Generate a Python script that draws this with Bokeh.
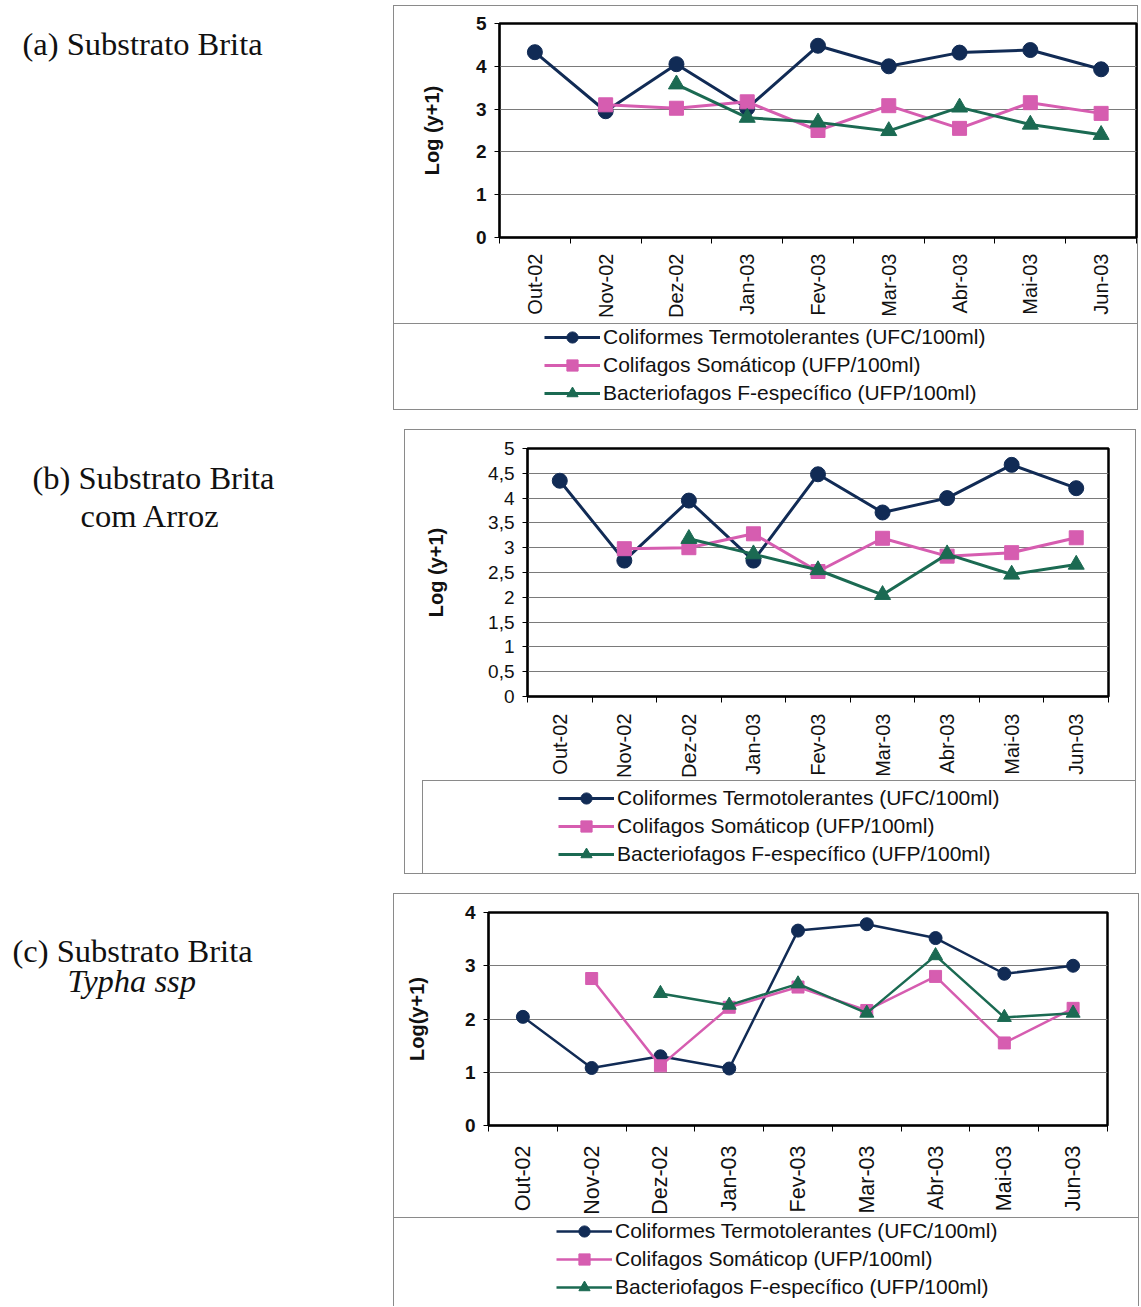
import math
from bokeh.plotting import figure
from bokeh.models import Range1d, FixedTicker, Label, Legend, LegendItem
from bokeh.embed import file_html
from bokeh.resources import INLINE

nan = float("nan")

months = ["Out-02", "Nov-02", "Dez-02", "Jan-03", "Fev-03", "Mar-03", "Abr-03", "Mai-03", "Jun-03"]
series_names = [
    "Coliformes Termotolerantes (UFC/100ml)",
    "Colifagos Somáticop (UFP/100ml)",
    "Bacteriofagos F-específico (UFP/100ml)",
]

# (a) Substrato Brita
a_colif = [4.33, 2.95, 4.05, 3.02, 4.48, 4.00, 4.32, 4.38, 3.93]
a_somat = [nan, 3.10, 3.02, 3.17, 2.50, 3.08, 2.55, 3.15, 2.90]
a_fspec = [nan, nan, 3.58, 2.80, 2.69, 2.49, 3.04, 2.64, 2.40]

# (b) Substrato Brita com Arroz
b_colif = [4.35, 2.74, 3.95, 2.74, 4.48, 3.71, 4.00, 4.67, 4.20]
b_somat = [nan, 2.98, 3.00, 3.28, 2.52, 3.19, 2.83, 2.90, 3.20]
b_fspec = [nan, nan, 3.18, 2.87, 2.55, 2.05, 2.87, 2.46, 2.66]

# (c) Substrato Brita Typha ssp
c_colif = [2.04, 1.08, 1.30, 1.07, 3.66, 3.78, 3.52, 2.85, 3.00]
c_somat = [nan, 2.76, 1.12, 2.22, 2.60, 2.16, 2.80, 1.55, 2.20]
c_fspec = [nan, nan, 2.48, 2.26, 2.66, 2.11, 3.19, 2.03, 2.11]

a_yticks = [0, 1, 2, 3, 4, 5]
b_yticks = [0, 0.5, 1, 1.5, 2, 2.5, 3, 3.5, 4, 4.5, 5]
c_yticks = [0, 1, 2, 3, 4]

COLORS = ["#112b55", "#d65db0", "#1b6a52"]
MARKERS = ["circle", "square", "triangle"]
FONT = "Liberation Sans"
GREY = "#8a8a8a"
W = 1141

xs = list(range(1, len(months) + 1))


def comma(v):
    return ("%g" % v).replace(".", ",")


def css_lines(lines):
    """Thin grey chart-area borders drawn as CSS backgrounds: (x, y, w, h) in px."""
    return {
        "background-image": ", ".join(["linear-gradient(%s, %s)" % (GREY, GREY)] * len(lines)),
        "background-size": ", ".join("%dpx %dpx" % (w, h) for (x, y, w, h) in lines),
        "background-position": ", ".join("%dpx %dpx" % (x, y) for (x, y, w, h) in lines),
        "background-repeat": "no-repeat",
    }


def chart(height, fl, fr, ft, fb, yticks, series, ylabel, ytick_bold, xfont,
          xstandoff, ylab_standoff, lines, lw, msizes):
    p = figure(width=W, height=height, x_range=Range1d(0.5, 9.5),
               y_range=Range1d(yticks[0], yticks[-1]),
               min_border_left=fl, min_border_right=W - fr,
               min_border_top=ft, min_border_bottom=height - fb,
               toolbar_location=None, output_backend="svg",
               background_fill_color="white", border_fill_alpha=0,
               outline_line_color="black", outline_line_width=2.5,
               styles=css_lines(lines))
    xa = p.xaxis[0]
    xa.ticker = FixedTicker(ticks=xs, minor_ticks=[i + 0.5 for i in range(0, 10)])
    xa.major_label_overrides = {x: m for x, m in zip(xs, months)}
    xa.major_label_orientation = math.pi / 2
    xa.major_tick_out = 0
    xa.major_tick_in = 0
    xa.minor_tick_out = 6
    xa.minor_tick_in = 0
    xa.minor_tick_line_color = "black"
    xa.axis_line_color = "black"
    xa.axis_line_width = 1.5
    xa.major_label_standoff = xstandoff
    xa.major_label_text_font = FONT
    xa.major_label_text_font_size = xfont
    xa.major_label_text_color = "#111111"

    ya = p.yaxis[0]
    ya.ticker = FixedTicker(ticks=yticks, minor_ticks=[])
    ya.major_label_overrides = {t: comma(t) for t in yticks}
    ya.major_tick_out = 5
    ya.major_tick_in = 0
    ya.minor_tick_out = 0
    ya.minor_tick_in = 0
    ya.major_tick_line_color = "black"
    ya.axis_line_color = "black"
    ya.axis_line_width = 1.5
    ya.major_label_standoff = 8
    ya.major_label_text_font = FONT
    ya.major_label_text_font_size = "19px"
    ya.major_label_text_font_style = "bold" if ytick_bold else "normal"
    ya.major_label_text_color = "#111111"
    ya.axis_label = ylabel
    ya.axis_label_text_font = FONT
    ya.axis_label_text_font_size = "20px"
    ya.axis_label_text_font_style = "bold"
    ya.axis_label_text_color = "#111111"
    ya.axis_label_standoff = ylab_standoff

    p.xgrid.visible = False
    p.ygrid.ticker = FixedTicker(ticks=yticks, minor_ticks=[])
    p.ygrid.grid_line_color = "#7a7a7a"
    p.ygrid.grid_line_width = 1.2

    for ys, col, mk, ms in zip(series, COLORS, MARKERS, msizes):
        p.line(xs, ys, line_color=col, line_width=lw, line_join="round")
        p.scatter(xs, ys, marker=mk, size=ms, fill_color=col, line_color=col)
    return p


def legend_panel(height, lx, ly, lines, lw):
    q = figure(width=W, height=height, x_range=Range1d(0, 1), y_range=Range1d(0, 1),
               min_border=0, x_axis_location=None, y_axis_location=None,
               toolbar_location=None, output_backend="svg",
               background_fill_alpha=0, border_fill_alpha=0,
               outline_line_color=None, styles=css_lines(lines))
    q.grid.visible = False
    items = []
    for name, col, mk in zip(series_names, COLORS, MARKERS):
        # legend keys only: one empty (NaN) point, nothing is drawn in the panel
        ln = q.line([nan], [nan], line_color=col, line_width=lw)
        sc = q.scatter([nan], [nan], marker=mk, size=15, fill_color=col, line_color=col)
        items.append(LegendItem(label=name, renderers=[ln, sc]))
    q.add_layout(Legend(items=items, location=(lx, ly), orientation="vertical",
                        border_line_color=None, background_fill_alpha=0,
                        padding=0, margin=0, spacing=0, glyph_width=56,
                        glyph_height=28, label_height=28, label_standoff=3,
                        label_text_font=FONT, label_text_font_size="21px",
                        label_text_color="#111111"))
    return q


# ---- (a) : page y 0..428
fig_a = chart(323, 499, 1136, 23, 237, a_yticks, [a_colif, a_somat, a_fspec], "Log (y+1)",
              True, "20px", 10, 30,
              [(393, 5, 745, 1), (393, 5, 1, 318), (1137, 5, 1, 318)], 3, [15, 14, 16])
leg_a = legend_panel(105, 544, 21,
                     [(393, 0, 745, 1), (393, 0, 1, 86), (1137, 0, 1, 86), (393, 86, 745, 1)], 3)

# ---- (b) : page y 428..893
fig_b = chart(352, 527, 1108, 20, 270, b_yticks, [b_colif, b_somat, b_fspec], "Log (y+1)",
              False, "20px", 11, 38,
              [(404, 1, 732, 1), (404, 1, 1, 351), (1135, 1, 1, 351)], 3, [15, 14, 16])
leg_b = legend_panel(113, 558, 25,
                     [(404, 0, 1, 93), (1135, 0, 1, 93), (404, 93, 732, 1),
                      (422, 0, 714, 1), (422, 0, 1, 93)], 3)

# ---- (c) : page y 893..1306
fig_c = chart(324, 488, 1107, 19, 235, c_yticks, [c_colif, c_somat, c_fspec], "Log(y+1)",
              True, "21.5px", 14, 34,
              [(393, 0, 746, 1), (393, 0, 1, 324), (1138, 0, 1, 324)], 2.5, [13, 12, 14])
leg_c = legend_panel(89, 556, 5,
                     [(393, 0, 746, 1), (393, 0, 1, 89), (1138, 0, 1, 89)], 2.5)

# ---- captions on the left (absolutely positioned overlay)
CAP_W, CAP_H = 385, 1300
cap = figure(width=CAP_W, height=CAP_H, x_range=Range1d(0, CAP_W), y_range=Range1d(CAP_H, 0),
             min_border=0, x_axis_location=None, y_axis_location=None,
             toolbar_location=None, output_backend="svg",
             background_fill_alpha=0, border_fill_alpha=0, outline_line_color=None,
             styles={"position": "absolute", "left": "0px", "top": "0px"})
cap.grid.visible = False
for txt, x, y, st in [("(a) Substrato Brita", 22, 43, "normal"),
                      ("(b) Substrato Brita", 32, 477, "normal"),
                      ("com Arroz", 80, 515, "normal"),
                      ("(c) Substrato Brita", 12, 950, "normal"),
                      ("Typha ssp", 67, 980, "italic")]:
    cap.add_layout(Label(x=x, y=y, text=txt, text_font="Liberation Serif",
                         text_font_size="32.5px", text_font_style=st,
                         text_color="#111111", text_baseline="alphabetic"))

roots = [fig_a, leg_a, fig_b, leg_b, fig_c, leg_c, cap]

with open("out.html", "w") as f:
    f.write(file_html(roots, INLINE))
